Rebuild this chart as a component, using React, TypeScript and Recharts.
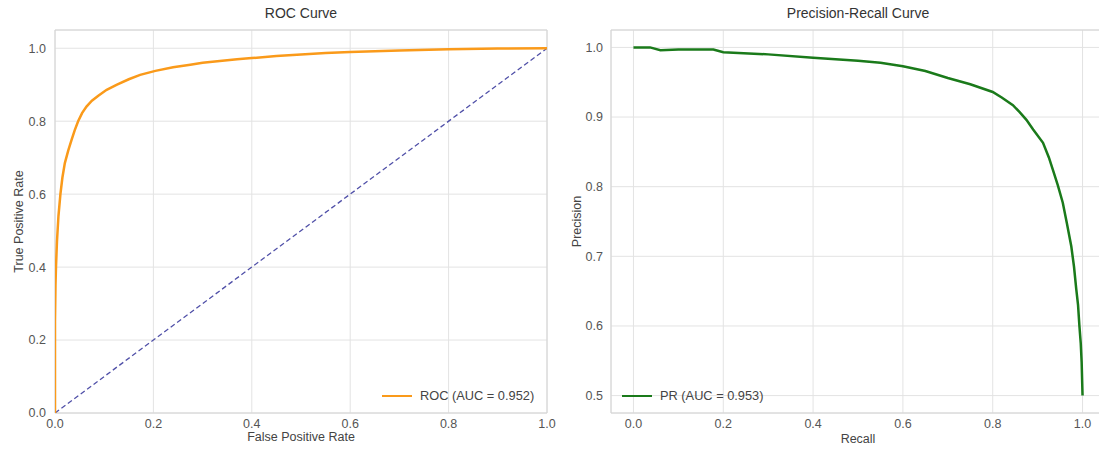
import React from "react";
import {
  LineChart,
  Line,
  XAxis,
  YAxis,
  CartesianGrid,
  ReferenceArea,
} from "recharts";

const rocFpr = [0, 0, 0.001, 0.002, 0.004, 0.007, 0.011, 0.015, 0.02, 0.027, 0.034, 0.04, 0.047, 0.055, 0.064, 0.075, 0.088, 0.105, 0.126, 0.15, 0.173, 0.204, 0.24, 0.275, 0.3, 0.335, 0.37, 0.4, 0.45, 0.5, 0.55, 0.6, 0.7, 0.8, 0.9, 1.0];
const rocTpr = [0, 0.25, 0.35, 0.4, 0.47, 0.54, 0.6, 0.645, 0.685, 0.72, 0.75, 0.775, 0.8, 0.822, 0.84, 0.856, 0.87, 0.886, 0.9, 0.915, 0.927, 0.938, 0.948, 0.955, 0.96, 0.965, 0.97, 0.973, 0.979, 0.983, 0.987, 0.99, 0.994, 0.997, 0.999, 1.0];

const chanceLine = [
  { x: 0, y: 0 },
  { x: 1, y: 1 },
];

const prRecall = [0, 0.037, 0.06, 0.1, 0.15, 0.178, 0.2, 0.3, 0.4, 0.5, 0.55, 0.6, 0.65, 0.7, 0.75, 0.8, 0.82, 0.845, 0.86, 0.875, 0.89, 0.912, 0.925, 0.934, 0.945, 0.956, 0.965, 0.975, 0.981, 0.986, 0.99, 0.993, 0.996, 0.998, 1.0];
const prPrecision = [1.0, 1.0, 0.996, 0.997, 0.997, 0.997, 0.993, 0.99, 0.985, 0.981, 0.978, 0.973, 0.966, 0.956, 0.947, 0.936, 0.928, 0.917, 0.907, 0.896, 0.882, 0.863, 0.842, 0.824, 0.802, 0.777, 0.748, 0.714, 0.685, 0.653, 0.63, 0.6, 0.575, 0.548, 0.5];

const rocTicksX = [0, 0.2, 0.4, 0.6, 0.8, 1.0];
const rocTicksY = [0, 0.2, 0.4, 0.6, 0.8, 1.0];
const prTicksX = [0, 0.2, 0.4, 0.6, 0.8, 1.0];
const prTicksY = [0.5, 0.6, 0.7, 0.8, 0.9, 1.0];

const rocData = rocFpr.map((x, i) => ({ x, y: rocTpr[i] }));
const prData = prRecall.map((x, i) => ({ x, y: prPrecision[i] }));

const FONT = "'Liberation Sans', Arial, sans-serif";
const tickStyle = { fontSize: 12.5, fill: "#555", fontFamily: FONT };
const fmt = (v: number) => v.toFixed(1);

const YLabel = (props: any) => {
  const { viewBox, text, dx } = props;
  const cx = viewBox.x + dx;
  const cy = viewBox.y + viewBox.height / 2;
  return (
    <text
      x={cx}
      y={cy}
      transform={`rotate(-90 ${cx} ${cy})`}
      textAnchor="middle"
      dominantBaseline="central"
      fontSize={12.5}
      fill="#444"
      fontFamily={FONT}
    >
      {text}
    </text>
  );
};

const XLabel = (props: any) => {
  const { viewBox, text, dy } = props;
  const cx = viewBox.x + viewBox.width / 2;
  const cy = viewBox.y + dy;
  return (
    <text
      x={cx}
      y={cy}
      textAnchor="middle"
      dominantBaseline="central"
      fontSize={12.5}
      fill="#444"
      fontFamily={FONT}
    >
      {text}
    </text>
  );
};

const Title = ({ left, width, text }: { left: number; width: number; text: string }) => (
  <div
    style={{
      position: "absolute",
      left,
      width,
      top: 5,
      lineHeight: "16px",
      textAlign: "center",
      fontSize: 14,
      color: "#333",
    }}
  >
    {text}
  </div>
);

const LegendItem = ({ left, color, text }: { left: number; color: string; text: string }) => (
  <div style={{ position: "absolute", left, top: 388, height: 16, display: "flex", alignItems: "center" }}>
    <div style={{ width: 30, height: 2.5, background: color, marginRight: 8 }} />
    <span style={{ fontSize: 12.8, color: "#444", lineHeight: "16px" }}>{text}</span>
  </div>
);

export default function App() {
  return (
    <div
      style={{
        position: "absolute",
        left: 0,
        top: 0,
        width: 1099,
        height: 450,
        overflow: "hidden",
        background: "#fff",
        fontFamily: FONT,
      }}
    >
      <Title left={55} width={492} text="ROC Curve" />
      <Title left={611} width={494} text="Precision-Recall Curve" />

      <div style={{ position: "absolute", left: 0, top: 0 }}>
        <LineChart width={560} height={450} margin={{ top: 30, right: 13, bottom: 0, left: 0 }}>
          <CartesianGrid stroke="#e3e3e3" />
          <XAxis
            type="number"
            dataKey="x"
            domain={[0, 1]}
            ticks={rocTicksX}
            tickFormatter={fmt}
            tickLine={false}
            axisLine={false}
            tickSize={4}
            tickMargin={2}
            height={37}
            tick={tickStyle}
            allowDataOverflow
            label={<XLabel text="False Positive Rate" dy={24} />}
          />
          <YAxis
            type="number"
            dataKey="y"
            domain={[0, 1.05]}
            ticks={rocTicksY}
            tickFormatter={fmt}
            tickLine={false}
            axisLine={false}
            tickSize={5}
            tickMargin={4}
            width={55}
            tick={tickStyle}
            allowDataOverflow
            label={<YLabel text="True Positive Rate" dx={19} />}
          />
          <ReferenceArea x1={0} x2={1} y1={0} y2={1.05} fill="none" stroke="#d4d4d4" strokeWidth={1} />
          <Line
            data={chanceLine}
            dataKey="y"
            type="linear"
            stroke="#5050a8"
            strokeWidth={1.3}
            strokeDasharray="5 3"
            dot={false}
            isAnimationActive={false}
          />
          <Line
            data={rocData}
            dataKey="y"
            type="linear"
            stroke="#fa9a1a"
            strokeWidth={2.5}
            dot={false}
            isAnimationActive={false}
          />
        </LineChart>
      </div>

      <div style={{ position: "absolute", left: 560, top: 0 }}>
        <LineChart width={545} height={450} margin={{ top: 30, right: 0, bottom: 0, left: 0 }}>
          <CartesianGrid stroke="#e3e3e3" />
          <XAxis
            type="number"
            dataKey="x"
            domain={[-0.05, 1.05]}
            ticks={prTicksX}
            tickFormatter={fmt}
            tickLine={false}
            axisLine={false}
            tickSize={4}
            tickMargin={2}
            height={37}
            tick={tickStyle}
            allowDataOverflow
            label={<XLabel text="Recall" dy={26} />}
          />
          <YAxis
            type="number"
            dataKey="y"
            domain={[0.475, 1.025]}
            ticks={prTicksY}
            tickFormatter={fmt}
            tickLine={false}
            axisLine={false}
            tickSize={5}
            tickMargin={3}
            width={51}
            tick={tickStyle}
            allowDataOverflow
            label={<YLabel text="Precision" dx={17} />}
          />
          <ReferenceArea x1={-0.05} x2={1.05} y1={0.475} y2={1.025} fill="none" stroke="#d4d4d4" strokeWidth={1} />
          <Line
            data={prData}
            dataKey="y"
            type="linear"
            stroke="#1a7a1a"
            strokeWidth={2.5}
            dot={false}
            isAnimationActive={false}
          />
        </LineChart>
      </div>

      <LegendItem left={382} color="#fa9a1a" text="ROC (AUC = 0.952)" />
      <LegendItem left={622} color="#1a7a1a" text="PR (AUC = 0.953)" />
    </div>
  );
}
